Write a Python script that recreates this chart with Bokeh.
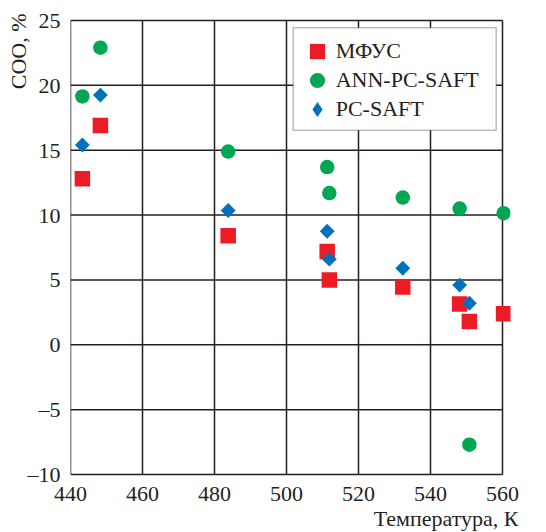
import numpy as np
from bokeh.plotting import figure
from bokeh.models import (Range1d, Legend, LegendItem, Title, BoxAnnotation)
from bokeh.embed import file_html
from bokeh.resources import INLINE

# ---- data ----
temperature = [443.3, 448.3, 483.8, 511.3, 511.9, 532.3, 548.1, 550.8, 560.3]
mfus = [12.8, 16.9, 8.4, 7.2, 5.0, 4.45, 3.15, 1.8, 2.4]
ann_pc_saft = [19.15, 22.9, 14.9, 13.7, 11.7, 11.35, 10.5, -7.7, 10.15]
temperature_pc = [443.3, 448.3, 483.8, 511.3, 511.9, 532.3, 548.1, 550.8]
pc_saft = [15.4, 19.25, 10.35, 8.75, 6.6, 5.9, 4.6, 3.2]

series_names = ["МФУС", "ANN-PC-SAFT", "PC-SAFT"]
x_ticks = [440, 460, 480, 500, 520, 540, 560]
y_ticks = [-10, -5, 0, 5, 10, 15, 20, 25]
y_tick_labels = {-10: "–10", -5: "–5"}
x_title = "Температура, К"
y_title = "СОО, %"

RED = "#ED1C24"
GREEN = "#00A651"
BLUE = "#0072BC"
INK = "#231F20"
FONT = "Liberation Serif"
FS = "22px"

# box of the axes in pixels; the frame is padded (right/top/bottom) so edge markers are not clipped
PAD_L, PAD_R, PAD_T, PAD_B = 0, 8, 8, 8
BOX_L, BOX_T, BOX_W, BOX_H = 70, 20, 432, 454
xmin, xmax = x_ticks[0], x_ticks[-1]
ymin, ymax = y_ticks[0], y_ticks[-1]
ux = (xmax - xmin) / BOX_W
uy = (ymax - ymin) / BOX_H

p = figure(width=546, height=532, output_backend="svg", toolbar_location=None,
           x_range=Range1d(xmin - PAD_L * ux, xmax + PAD_R * ux),
           y_range=Range1d(ymin - PAD_B * uy, ymax + PAD_T * uy),
           min_border_left=BOX_L - PAD_L,
           min_border_right=546 - BOX_L - BOX_W - PAD_R,
           min_border_top=BOX_T - PAD_T,
           min_border_bottom=532 - BOX_T - BOX_H - PAD_B)
p.background_fill_color = "white"
p.border_fill_color = "white"
p.outline_line_color = None
p.grid.visible = False

p.xaxis.ticker = x_ticks
p.yaxis.ticker = y_ticks
p.yaxis.major_label_overrides = y_tick_labels
for ax in (p.xaxis, p.yaxis):
    ax.axis_line_color = None
    ax.major_tick_line_color = None
    ax.minor_tick_line_color = None
    ax.major_tick_in = 0
    ax.major_tick_out = 0
    ax.major_label_text_font = FONT
    ax.major_label_text_font_size = FS
    ax.major_label_text_color = INK
p.xaxis.major_label_standoff = 4
p.yaxis.major_label_standoff = 10

# grid lines (including the frame) at the tick positions
p.segment(x0=x_ticks, y0=[ymin] * len(x_ticks), x1=x_ticks, y1=[ymax] * len(x_ticks),
          line_color=INK, line_width=1.5)
p.segment(x0=[xmin] * len(y_ticks), y0=y_ticks, x1=[xmax] * len(y_ticks), y1=y_ticks,
          line_color=INK, line_width=1.5)

r1 = p.scatter(temperature, mfus, marker="square", size=15.5,
               fill_color=RED, line_color=None)
r2 = p.scatter(temperature, ann_pc_saft, marker="circle", size=14.5,
               fill_color=GREEN, line_color=None)
# legend proxy (hidden beneath the rotated squares)
r3_leg = p.scatter(temperature_pc, pc_saft, marker="diamond", size=9,
                   fill_color=BLUE, line_color=None)
r3 = p.scatter(temperature_pc, pc_saft, marker="square", angle=np.pi / 4, size=10.5,
               fill_color=BLUE, line_color=None)

# legend: frame box + one legend per row
frame_bottom = BOX_T + BOX_H + PAD_B   # canvas y of the padded frame bottom
frame_left = BOX_L - PAD_L
p.add_layout(BoxAnnotation(left=292.7 - frame_left, right=495.7 - frame_left,
                           bottom=frame_bottom - 129.7, top=frame_bottom - 27.3,
                           left_units="screen", right_units="screen",
                           bottom_units="screen", top_units="screen",
                           fill_color="white", fill_alpha=1.0,
                           line_color=INK, line_width=1.5))
row_centers = [51, 80, 108.5]
for name, rend, yc in zip(series_names, [r1, r2, r3_leg], row_centers):
    lg = Legend(items=[LegendItem(label=name, renderers=[rend])],
                location=(297.7 - frame_left, frame_bottom - (yc + 19)),
                margin=0, padding=0, spacing=0,
                glyph_width=38, glyph_height=38, label_standoff=0,
                label_height=20,
                label_text_font=FONT, label_text_font_size=FS,
                label_text_color=INK,
                border_line_color=None, background_fill_alpha=0.0)
    p.add_layout(lg)

p.add_layout(Title(text=x_title, align="right", offset=-8, standoff=0,
                   text_font=FONT, text_font_size=FS, text_font_style="normal",
                   text_color=INK), "below")
p.add_layout(Title(text=y_title, align="right", offset=1, standoff=-12,
                   text_font=FONT, text_font_size=FS, text_font_style="normal",
                   text_color=INK), "left")

open("out.html", "w").write(file_html(p, INLINE))
